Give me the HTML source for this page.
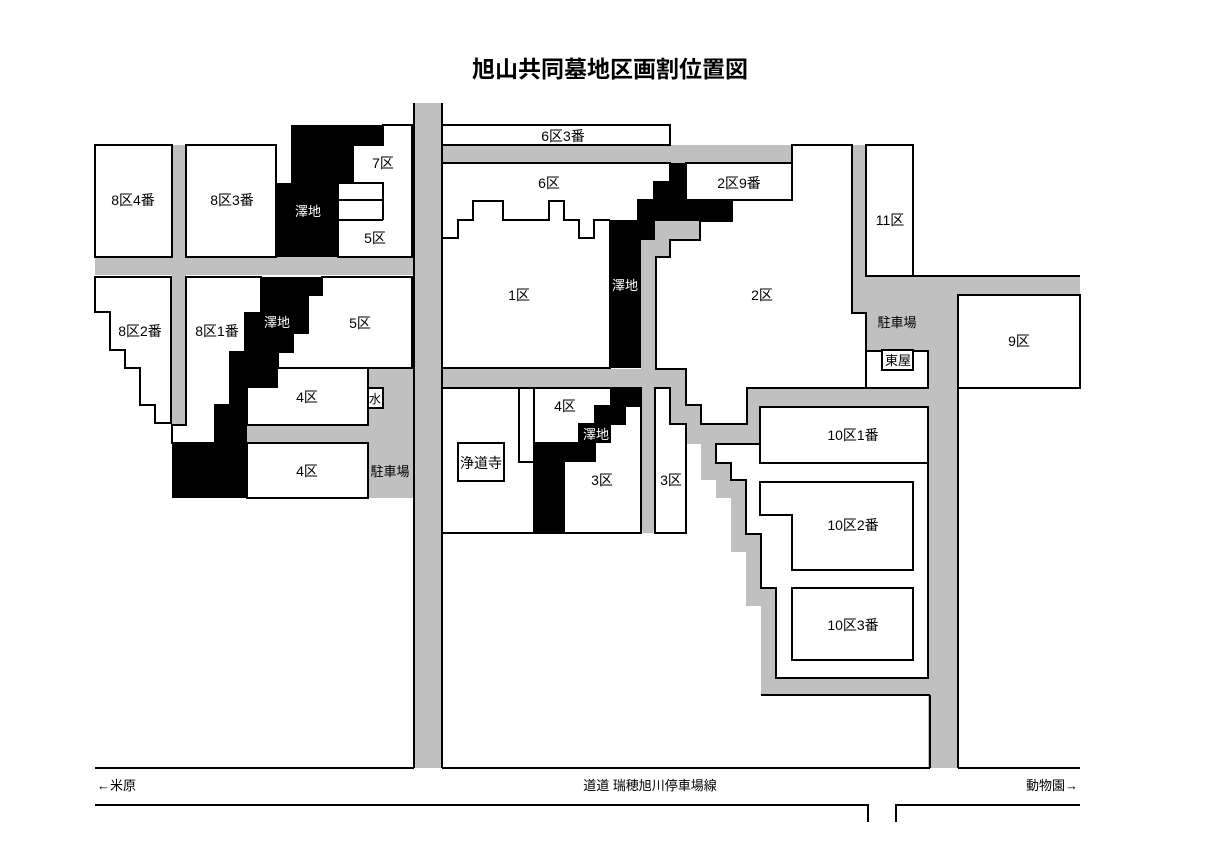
<!DOCTYPE html>
<html><head><meta charset="utf-8"><style>
html,body{margin:0;padding:0;background:#fff;}
svg{display:block;}
text{font-family:"Liberation Sans","Noto Sans CJK JP",sans-serif;font-size:14px;fill:#000;}
</style></head><body>
<svg width="1219" height="861" viewBox="0 0 1219 861" xmlns="http://www.w3.org/2000/svg">
<rect width="1219" height="861" fill="#fff"/>
<text x="610" y="77" text-anchor="middle" style="font-size:23px;font-weight:bold">旭山共同墓地区画割位置図</text>

<g fill="#c0c0c0" stroke="none">
<rect x="414" y="103" width="28" height="665"/>
<rect x="442" y="145" width="350" height="18"/>
<rect x="95" y="257" width="319" height="18"/>
<rect x="172" y="145" width="14" height="280"/>
<rect x="368" y="369" width="46" height="129"/>
<rect x="247" y="425" width="121" height="18"/>
<rect x="442" y="369" width="244" height="19"/>
<polygon points="655,221 700,221 700,240 670,240 670,257 655,257 655,533 641,533 641,240 655,240"/>
<polygon points="670,369 686,369 686,405 701,405 701,424 747,424 747,388 930,388 930,695 761,695 761,606 746,606 746,552 731,552 731,498 716,498 716,480 701,480 701,444 686,444 686,424 670,424"/>
<rect x="852" y="145" width="14" height="168"/>
<rect x="866" y="276" width="214" height="19"/>
<rect x="866" y="295" width="62" height="56"/>
<rect x="928" y="276" width="30" height="492"/>
<rect x="913" y="534" width="15" height="18"/>
<rect x="913" y="624" width="15" height="18"/>
</g>

<g fill="#fff" stroke="#000" stroke-width="2">
<rect x="95" y="145" width="77" height="112"/>
<rect x="186" y="145" width="90" height="112"/>
<polygon points="383,125 412,125 412,257 338,257 338,183 353,183 353,145 383,145"/>
<polygon points="95,277 171,277 171,423 155,423 155,405 140,405 140,368 125,368 125,350 110,350 110,312 95,312"/>
<polygon points="186,277 261,277 261,313 245,313 245,352 230,352 230,405 215,405 215,443 172,443 172,425 186,425"/>
<polygon points="322,277 412,277 412,368 278,368 278,352 293,352 293,333 308,333 308,295 322,295"/>
<rect x="247" y="368" width="121" height="57"/>
<rect x="368" y="388" width="15" height="20"/>
<rect x="247" y="443" width="121" height="55"/>
<rect x="442" y="125" width="228" height="20"/>
<polygon points="442,163 670,163 670,182 654,182 654,200 638,200 638,221 610,221 610,368 442,368"/>
<rect x="686" y="163" width="106" height="37"/>
<polygon points="732,200 792,200 792,145 852,145 852,313 866,313 866,388 747,388 747,424 701,424 701,405 686,405 686,369 656,369 656,257 670,257 670,240 700,240 700,221 732,221"/>
<rect x="866" y="145" width="47" height="131"/>
<polygon points="866,351 928,351 928,388 866,388"/>
<rect x="958" y="295" width="122" height="93"/>
<rect x="442" y="388" width="199" height="145"/>
<rect x="458" y="443" width="46" height="38"/>
<rect x="534" y="388" width="107" height="145"/>
<polygon points="655,388 670,388 670,424 686,424 686,533 655,533"/>
<polygon points="716,444 760,444 760,463 928,463 928,678 776,678 776,588 761,588 761,534 746,534 746,480 731,480 731,463 716,463"/>
<rect x="760" y="407" width="168" height="56"/>
<polygon points="760,482 913,482 913,570 792,570 792,515 760,515"/>
<rect x="792" y="588" width="121" height="72"/>
<rect x="882" y="350" width="31" height="20"/>
</g>

<g fill="#000">
<polygon points="291,125 383,125 383,145 353,145 353,183 338,183 338,257 276,257 276,183 291,183"/>
<polygon points="261,277 322,277 322,295 308,295 308,333 293,333 293,352 278,352 278,388 247,388 247,498 172,498 172,443 215,443 215,405 230,405 230,352 245,352 245,313 261,313"/>
<polygon points="670,163 686,163 686,200 732,200 732,221 655,221 655,240 641,240 641,368 610,368 610,221 638,221 638,200 654,200 654,182 670,182"/>
<polygon points="610,388 641,388 641,407 626,407 626,425 611,425 611,443 596,443 596,462 565,462 565,533 534,533 534,443 578,443 578,423 594,423 594,405 610,405"/>
</g>

<g fill="none" stroke="#000" stroke-width="2">
<polyline points="338,183 383,183 383,220"/>
<line x1="338" y1="200" x2="383" y2="200"/>
<line x1="338" y1="220" x2="383" y2="220"/>
<polyline points="443,238 458,238 458,220 473,220 473,201 503,201 503,220 549,220 549,201 564,201 564,220 579,220 579,238 594,238 594,220 610,220"/>
<polyline points="519,388 519,462 534,462"/>
<polyline points="534,443 578,443"/>
<line x1="414" y1="103" x2="414" y2="768"/>
<line x1="442" y1="103" x2="442" y2="768"/>
<line x1="958" y1="388" x2="958" y2="768"/>
<line x1="930" y1="695" x2="930" y2="768"/>
<polyline points="761,695 930,695"/>
<line x1="913" y1="276" x2="1080" y2="276"/>
<line x1="95" y1="768" x2="414" y2="768"/>
<line x1="442" y1="768" x2="930" y2="768"/>
<line x1="958" y1="768" x2="1080" y2="768"/>
<polyline points="95,805 868,805 868,822"/>
<polyline points="1080,805 896,805 896,822"/>
</g>

<g>
<text x="133" y="205" text-anchor="middle">8区4番</text>
<text x="232" y="205" text-anchor="middle">8区3番</text>
<text x="308" y="216" text-anchor="middle" style="fill:#fff;font-size:13px">澤地</text>
<text x="383" y="168" text-anchor="middle">7区</text>
<text x="375" y="243" text-anchor="middle">5区</text>
<text x="140" y="336" text-anchor="middle">8区2番</text>
<text x="217" y="336" text-anchor="middle">8区1番</text>
<text x="277" y="327" text-anchor="middle" style="fill:#fff;font-size:13px">澤地</text>
<text x="360" y="328" text-anchor="middle">5区</text>
<text x="307" y="402" text-anchor="middle">4区</text>
<text x="375" y="403" text-anchor="middle" style="font-size:12px">水</text>
<text x="307" y="476" text-anchor="middle">4区</text>
<text x="390" y="476" text-anchor="middle" style="font-size:13px">駐車場</text>
<text x="563" y="141" text-anchor="middle">6区3番</text>
<text x="549" y="188" text-anchor="middle">6区</text>
<text x="739" y="188" text-anchor="middle">2区9番</text>
<text x="519" y="300" text-anchor="middle">1区</text>
<text x="625" y="290" text-anchor="middle" style="fill:#fff;font-size:13px">澤地</text>
<text x="762" y="300" text-anchor="middle">2区</text>
<text x="890" y="225" text-anchor="middle">11区</text>
<text x="897" y="327" text-anchor="middle" style="font-size:13px">駐車場</text>
<text x="898" y="365" text-anchor="middle" style="font-size:13px">東屋</text>
<text x="1019" y="346" text-anchor="middle">9区</text>
<text x="565" y="411" text-anchor="middle">4区</text>
<text x="596" y="439" text-anchor="middle" style="fill:#fff;font-size:13px">澤地</text>
<text x="481" y="468" text-anchor="middle">浄道寺</text>
<text x="602" y="485" text-anchor="middle">3区</text>
<text x="671" y="485" text-anchor="middle">3区</text>
<text x="853" y="440" text-anchor="middle">10区1番</text>
<text x="853" y="530" text-anchor="middle">10区2番</text>
<text x="853" y="630" text-anchor="middle">10区3番</text>
<text x="97" y="790" style="font-size:13px">←米原</text>
<text x="650" y="790" text-anchor="middle" style="font-size:13px">道道 瑞穂旭川停車場線</text>
<text x="1078" y="790" text-anchor="end" style="font-size:13px">動物園→</text>
</g>
</svg>
</body></html>
